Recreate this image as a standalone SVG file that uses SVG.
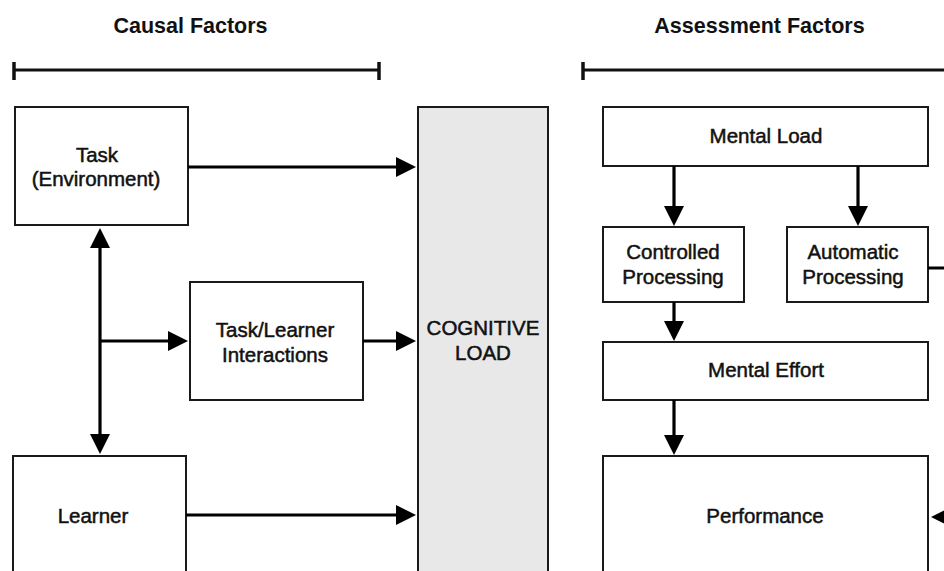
<svg xmlns="http://www.w3.org/2000/svg" width="944" height="571" viewBox="0 0 944 571">
  <style>
    .box { fill: #ffffff; stroke: #1a1a1a; stroke-width: 2; }
    .cog { fill: #e8e8e8; stroke: #1a1a1a; stroke-width: 2; }
    .lbl { font-family: "Liberation Sans", Arial, Helvetica, sans-serif; font-size: 20.5px; fill: #111; stroke: #111; stroke-width: 0.5; text-anchor: middle; }
    .hdr { font-family: "Liberation Sans", Arial, Helvetica, sans-serif; font-size: 21.5px; font-weight: bold; fill: #111; text-anchor: middle; }
    .wire { fill: none; stroke: #000; stroke-width: 3.2; }
    .bracket { fill: none; stroke: #111; stroke-width: 3; }
    .tick { fill: none; stroke: #111; stroke-width: 3.5; }
  </style>
  <defs>
    <marker id="ah" markerUnits="userSpaceOnUse" markerWidth="22" markerHeight="22" refX="1" refY="10" orient="auto-start-reverse" overflow="visible">
      <path d="M0,0 L20,10 L0,20 Z" fill="#000"/>
    </marker>
  </defs>

  <rect width="944" height="571" fill="#ffffff"/>

  <!-- column headings and range brackets -->
  <g id="causal-header">
    <text class="hdr" x="190.5" y="33">Causal Factors</text>
    <line class="bracket" x1="14" y1="70" x2="379" y2="70"/>
    <line class="tick" x1="14" y1="62" x2="14" y2="80"/>
    <line class="tick" x1="379" y1="62" x2="379" y2="80"/>
  </g>
  <g id="assessment-header">
    <text class="hdr" x="759.5" y="33">Assessment Factors</text>
    <line class="bracket" x1="583" y1="70" x2="950" y2="70"/>
    <line class="tick" x1="583" y1="62" x2="583" y2="80"/>
  </g>

  <!-- nodes -->
  <g id="task">
    <rect class="box" x="15" y="107" width="173" height="118"/>
    <text class="lbl" x="97" y="162">Task</text>
    <text class="lbl" x="96" y="186">(Environment)</text>
  </g>
  <g id="interactions">
    <rect class="box" x="190" y="282" width="173" height="118"/>
    <text class="lbl" x="275" y="337">Task/Learner</text>
    <text class="lbl" x="275" y="362">Interactions</text>
  </g>
  <g id="learner">
    <rect class="box" x="13" y="456" width="173" height="130"/>
    <text class="lbl" x="93" y="523">Learner</text>
  </g>
  <g id="cognitive-load">
    <rect class="cog" x="418" y="107" width="130" height="480"/>
    <text class="lbl" x="483" y="335">COGNITIVE</text>
    <text class="lbl" x="483" y="360">LOAD</text>
  </g>
  <g id="mental-load">
    <rect class="box" x="603" y="107" width="325" height="59"/>
    <text class="lbl" x="766" y="143">Mental Load</text>
  </g>
  <g id="controlled">
    <rect class="box" x="603" y="227" width="141" height="75"/>
    <text class="lbl" x="673" y="259">Controlled</text>
    <text class="lbl" x="673" y="284">Processing</text>
  </g>
  <g id="automatic">
    <rect class="box" x="787" y="227" width="141" height="75"/>
    <text class="lbl" x="853" y="259">Automatic</text>
    <text class="lbl" x="853" y="284">Processing</text>
  </g>
  <g id="mental-effort">
    <rect class="box" x="603" y="342" width="325" height="58"/>
    <text class="lbl" x="766" y="377">Mental Effort</text>
  </g>
  <g id="performance">
    <rect class="box" x="603" y="456" width="325" height="130"/>
    <text class="lbl" x="765" y="523">Performance</text>
  </g>

  <!-- connectors -->
  <g id="connectors">
    <line class="wire" x1="188" y1="167" x2="397" y2="167" marker-end="url(#ah)"/>
    <line class="wire" x1="363" y1="341" x2="397" y2="341" marker-end="url(#ah)"/>
    <line class="wire" x1="186" y1="515" x2="397" y2="515" marker-end="url(#ah)"/>
    <line class="wire" x1="100" y1="247" x2="100" y2="435" marker-start="url(#ah)" marker-end="url(#ah)"/>
    <line class="wire" x1="100" y1="341" x2="169" y2="341" marker-end="url(#ah)"/>
    <line class="wire" x1="674" y1="166" x2="674" y2="207" marker-end="url(#ah)"/>
    <line class="wire" x1="858" y1="166" x2="858" y2="207" marker-end="url(#ah)"/>
    <line class="wire" x1="674" y1="302" x2="674" y2="322" marker-end="url(#ah)"/>
    <line class="wire" x1="674" y1="400" x2="674" y2="436" marker-end="url(#ah)"/>
    <path class="wire" d="M928,268 H965 V517 H950" marker-end="url(#ah)"/>
  </g>
</svg>
